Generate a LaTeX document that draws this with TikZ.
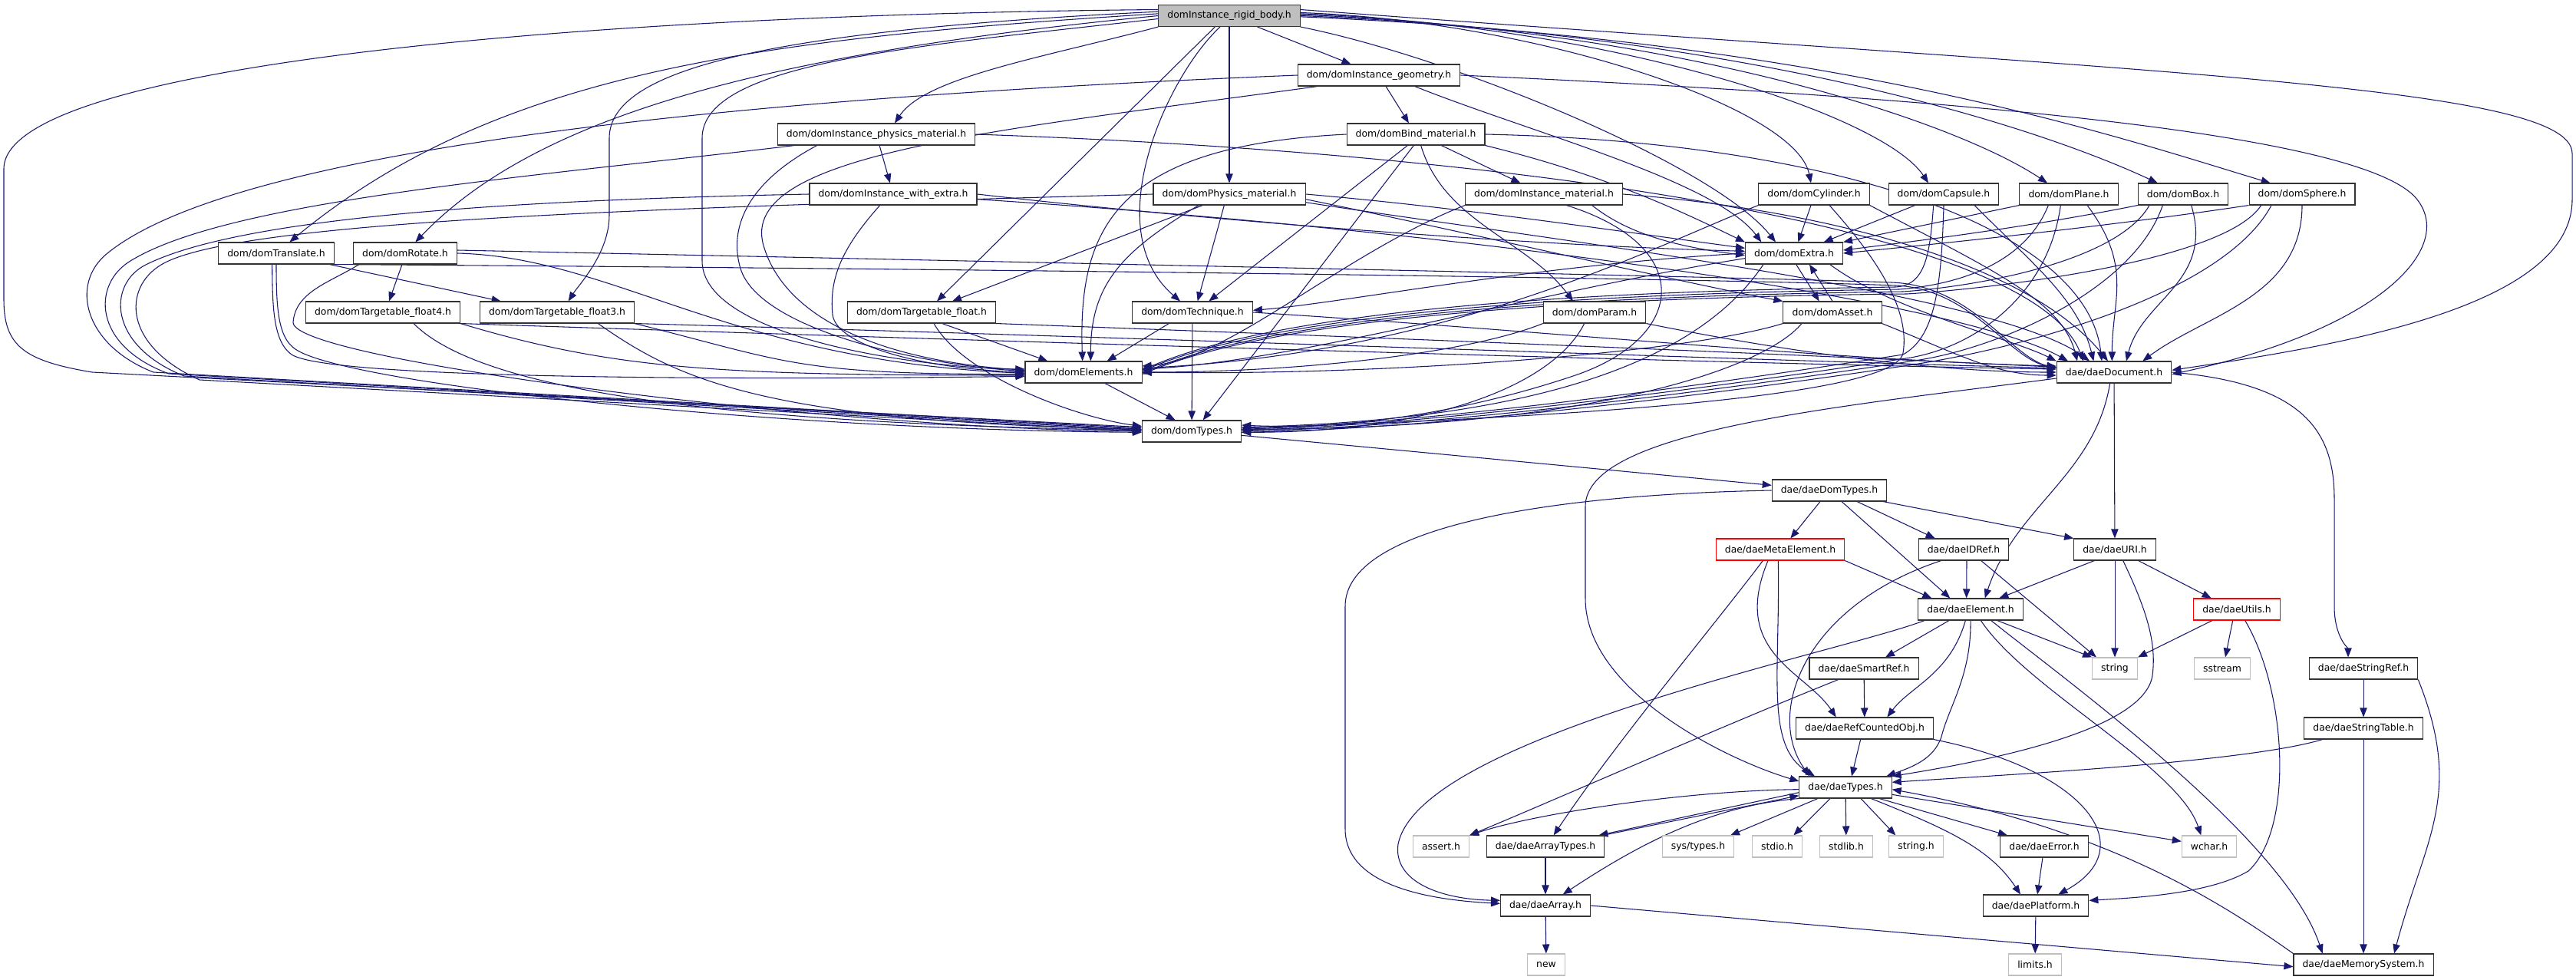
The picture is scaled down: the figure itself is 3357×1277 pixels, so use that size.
\documentclass[tikz,border=0pt]{standalone}
\usepackage{fontspec}
\setmainfont{DejaVu Sans}
\usetikzlibrary{arrows.meta}
\pgfdeclarelayer{bg}
\pgfsetlayers{bg,main}
\definecolor{edgec}{HTML}{191970}
\definecolor{boxc}{HTML}{333333}
\definecolor{sysc}{HTML}{BFBFBF}
\definecolor{rootc}{HTML}{BFBFBF}
\begin{document}
\begin{tikzpicture}[x=0.75pt,y=-0.75pt,
  nbox/.style={draw=boxc, line width=0.8pt, fill=white, minimum height=21pt, inner xsep=8.7pt, inner ysep=0pt, font=\fontsize{9.3pt}{11pt}\selectfont},
  sysb/.style={nbox, draw=sysc},
  redb/.style={nbox, draw=red},
  rootb/.style={nbox, fill=rootc},
  edg/.style={draw=edgec, line width=0.8pt, -{Triangle[length=9pt,width=7pt]}}]
\useasboundingbox (0,0) rectangle (3357,1277);
% ---------------- nodes
\node[rootb] (root) at (1602,20.5) {domInstance\_rigid\_body.h};
\node[nbox] (geom) at (1797,98) {dom/domInstance\_geometry.h};
\node[nbox] (ipm) at (1142,175) {dom/domInstance\_physics\_material.h};
\node[nbox] (bind) at (1845,175) {dom/domBind\_material.h};
\node[nbox] (iwe) at (1164,253) {dom/domInstance\_with\_extra.h};
\node[nbox] (pm) at (1602,253) {dom/domPhysics\_material.h};
\node[nbox] (imat) at (2012,253) {dom/domInstance\_material.h};
\node[nbox] (cyl) at (2364,253) {dom/domCylinder.h};
\node[nbox] (cap) at (2533,253) {dom/domCapsule.h};
\node[nbox] (plane) at (2696,253) {dom/domPlane.h};
\node[nbox] (box) at (2845,253) {dom/domBox.h};
\node[nbox] (sphere) at (3000,253) {dom/domSphere.h};
\node[nbox] (trans) at (360,330) {dom/domTranslate.h};
\node[nbox] (rot) at (528,330) {dom/domRotate.h};
\node[nbox] (extra) at (2338,330) {dom/domExtra.h};
\node[nbox] (tf4) at (499,407) {dom/domTargetable\_float4.h};
\node[nbox] (tf3) at (726,407) {dom/domTargetable\_float3.h};
\node[nbox] (tf) at (1201,407) {dom/domTargetable\_float.h};
\node[nbox] (tech) at (1554,407) {dom/domTechnique.h};
\node[nbox] (param) at (2078,407) {dom/domParam.h};
\node[nbox] (asset) at (2388,407) {dom/domAsset.h};
\node[nbox] (elem) at (1412,485) {dom/domElements.h};
\node[nbox] (doc) at (2755,485) {dae/daeDocument.h};
\node[nbox] (dtypes) at (1553,562) {dom/domTypes.h};
\node[nbox] (ddt) at (2384,639) {dae/daeDomTypes.h};
\node[redb] (meta) at (2320,716) {dae/daeMetaElement.h};
\node[nbox] (idref) at (2559,716) {dae/daeIDRef.h};
\node[nbox] (uri) at (2756,716) {dae/daeURI.h};
\node[nbox] (elt) at (2568,794) {dae/daeElement.h};
\node[redb] (utils) at (2915,794) {dae/daeUtils.h};
\node[nbox] (smart) at (2429,871) {dae/daeSmartRef.h};
\node[sysb] (string) at (2756,871) {string};
\node[sysb] (sstream) at (2896,871) {sstream};
\node[nbox] (sref) at (3080,871) {dae/daeStringRef.h};
\node[nbox] (rco) at (2430,949) {dae/daeRefCountedObj.h};
\node[nbox] (stable) at (3080,949) {dae/daeStringTable.h};
\node[nbox] (types) at (2405,1026) {dae/daeTypes.h};
\node[sysb] (assert) at (1878,1103) {assert.h};
\node[nbox] (atypes) at (2014,1103) {dae/daeArrayTypes.h};
\node[sysb] (systypes) at (2213,1103) {sys/types.h};
\node[sysb] (stdio) at (2316,1103) {stdio.h};
\node[sysb] (stdlib) at (2406,1103) {stdlib.h};
\node[sysb] (stringh) at (2497,1103) {string.h};
\node[nbox] (err) at (2664,1103) {dae/daeError.h};
\node[sysb] (wchar) at (2879,1103) {wchar.h};
\node[nbox] (array) at (2014,1180) {dae/daeArray.h};
\node[nbox] (platform) at (2653,1180) {dae/daePlatform.h};
\node[sysb] (new) at (2015,1257) {new};
\node[sysb] (limits) at (2652,1257) {limits.h};
\node[nbox] (mem) at (3080,1257) {dae/daeMemorySystem.h};
% ---------------- edges
\begin{pgfonlayer}{bg}
\fill[white] (0,0) rectangle (3357,1277);
% root
\draw[edg] (root) -- (geom);
\draw[edg] (root.south west) .. controls +(-150,40) and +(40,-60) .. ([xshift=18pt]ipm.north);
\draw[edg] (root) -- (pm);
\draw[edg] ([xshift=-9pt]root.south) .. controls (1520,100) and (1430,300) .. ([xshift=-12pt]tech.north);
\draw[edg] ([xshift=-14pt]root.south) -- ([xshift=15pt]tf.north);
\draw[edg] ([yshift=4pt]root.west) .. controls (1000,40) and (794,90) .. (794,180) -- (794,280) .. controls (794,330) and (755,370) .. ([xshift=11pt]tf3.north);
\draw[edg] ([yshift=2pt]root.west) .. controls (1000,50) and (650,90) .. ([xshift=13pt]trans.north);
\draw[edg] (root.west) .. controls (1000,70) and (700,150) .. ([xshift=10pt]rot.north);
\draw[edg] ([yshift=-3pt]root.west) .. controls (1200,60) and (915,80) .. (915,180) -- (915,340) .. controls (915,440) and (1200,480) .. ([yshift=3pt]elem.west);
\draw[edg] ([yshift=6pt]root.west) .. controls (700,20) and (5,90) .. (5,220) -- (5,390) .. controls (5,450) and (30,470) .. (120,485) -- ([yshift=4pt]dtypes.west);
\draw[edg] ([yshift=6pt]root.east) .. controls (2800,95) and (3352,110) .. (3352,200) -- (3352,260) .. controls (3352,400) and (3050,450) .. ([yshift=2pt]doc.east);
\draw[edg] ([yshift=3pt]root.east) .. controls +(300,10) and +(-20,-100) .. ([xshift=-3pt]cyl.north);
\draw[edg] ([yshift=2pt]root.east) .. controls +(400,15) and +(-60,-90) .. ([xshift=-15pt]cap.north);
\draw[edg] ([yshift=1pt]root.east) .. controls +(500,20) and +(-120,-80) .. ([xshift=-21pt]plane.north);
\draw[edg] (root.east) .. controls +(600,25) and +(-150,-70) .. ([xshift=-25pt]box.north);
\draw[edg] ([yshift=-1pt]root.east) .. controls +(700,30) and +(-200,-60) .. ([xshift=-31pt]sphere.north);
\draw[edg] (root.south east) .. controls +(200,40) and +(-80,-100) .. ([xshift=-18pt]extra.north);
% geom
\draw[edg] (geom) -- (bind);
\draw[edg] ([xshift=35pt]geom.south) .. controls +(150,60) and +(-60,-80) .. ([xshift=-32pt]extra.north);
\draw[edg] (geom.east) .. controls (2500,125) and (3080,170) .. (3150,260) .. controls (3200,324) and (3100,430) .. ([yshift=-2pt]doc.east);
\draw[edg] ([xshift=-60pt]geom.south) .. controls (1300,170) and (960,200) .. (995,320) .. controls (1023,416) and (1150,470) .. ([yshift=2pt]elem.west);
\draw[edg] (geom.west) .. controls (900,130) and (300,200) .. (140,330) .. controls (90,370) and (110,450) .. (200,485) -- ([yshift=3pt]dtypes.west);
% ipm
\draw[edg] (ipm) -- (iwe);
\draw[edg] ([xshift=-80pt]ipm.south) .. controls (700,230) and (300,260) .. (170,340) .. controls (120,370) and (120,450) .. (220,487) -- ([yshift=2pt]dtypes.west);
\draw[edg] ([xshift=-58pt]ipm.south) .. controls (970,240) and (950,300) .. (965,350) .. controls (990,430) and (1200,475) .. ([yshift=1pt]elem.west);
\draw[edg] (ipm.east) .. controls (2000,200) and (2650,300) .. ([xshift=-30pt]doc.north);
% iwe
\draw[edg] (iwe.east) .. controls (1600,290) and (2000,320) .. ([yshift=2pt]extra.west);
\draw[edg] ([yshift=-5pt]iwe.east) .. controls (1900,300) and (2550,390) .. ([xshift=-45pt]doc.north);
\draw[edg] ([xshift=-13pt]iwe.south) .. controls (1100,320) and (1080,360) .. (1085,410) .. controls (1090,450) and (1200,480) .. (elem.west);
\draw[edg] (iwe.west) .. controls (700,260) and (320,280) .. (190,345) .. controls (140,370) and (140,450) .. (240,490) -- ([yshift=1pt]dtypes.west);
% pm
\draw[edg] ([xshift=-26pt]pm.south) -- ([xshift=30pt]tf.north);
\draw[edg] ([xshift=-5pt]pm.south) -- ([xshift=5pt]tech.north);
\draw[edg] ([xshift=-30pt]pm.south) .. controls +(-100,60) and +(0,-100) .. ([xshift=7pt]elem.north);
\draw[edg] (pm.east) .. controls (1900,270) and (2100,300) .. ([yshift=5pt]extra.west);
\draw[edg] ([yshift=-5pt]pm.east) .. controls (1900,300) and (2200,370) .. (asset.north west);
\draw[edg] (pm.west) .. controls (900,270) and (310,285) .. (210,345) .. controls (160,375) and (160,450) .. (260,495) -- (dtypes.west);
\draw[edg] ([yshift=-8pt]pm.east) .. controls (2000,310) and (2600,380) .. ([xshift=-24pt]doc.north);
% bind
\draw[edg] ([xshift=25pt]bind.south) -- ([xshift=-23pt]imat.north);
\draw[edg] ([xshift=5pt]bind.south) .. controls +(30,100) and +(-60,-80) .. ([xshift=-21pt]param.north);
\draw[edg] ([xshift=-8pt]bind.south) -- ([xshift=16pt]tech.north);
\draw[edg] ([xshift=-2pt]bind.south) -- ([xshift=11pt]dtypes.north);
\draw[edg] (bind.west) .. controls (1450,190) and (1405,300) .. ([xshift=-1pt]elem.north);
\draw[edg] (bind.south east) .. controls (2100,230) and (2200,280) .. (extra.north west);
\draw[edg] (bind.east) .. controls (2400,185) and (2720,300) .. ([xshift=-12pt]doc.north);
% imat
\draw[edg] ([xshift=47pt]imat.south) .. controls +(50,40) and +(-80,-10) .. ([yshift=-2pt]extra.west);
\draw[edg] (imat.east) .. controls (2400,275) and (2650,350) .. ([xshift=-6pt]doc.north);
\draw[edg] (imat.south west) .. controls (1750,330) and (1600,470) .. ([yshift=6pt]elem.east);
\draw[edg] ([xshift=22pt]imat.south) .. controls (2210,320) and (2200,440) .. (2050,490) .. controls (1900,540) and (1750,560) .. ([yshift=6pt]dtypes.east);
% cyl
\draw[edg] ([xshift=-3pt]cyl.south) -- ([xshift=4pt]extra.north);
\draw[edg] (cyl.south west) .. controls +(-150,60) and +(400,-20) .. ([yshift=4pt]elem.east);
\draw[edg] ([xshift=15pt]cyl.south) .. controls (2440,330) and (2490,400) .. (2480,460) .. controls (2470,520) and (2000,545) .. ([yshift=3pt]dtypes.east);
\draw[edg] (cyl.south east) .. controls +(150,80) and +(-20,-80) .. ([xshift=-36pt]doc.north);
% cap
\draw[edg] ([xshift=-28pt]cap.south) -- ([xshift=29pt]extra.north);
\draw[edg] ([xshift=-10pt]cap.south) .. controls (2515,330) and (2510,372) .. (2470,374) .. controls (2200,378) and (1700,390) .. ([yshift=2pt]elem.east);
\draw[edg] (cap.south) .. controls (2530,380) and (2520,440) .. (2480,462) .. controls (2300,490) and (1900,550) .. ([yshift=2pt]dtypes.east);
\draw[edg] ([xshift=30pt]cap.south) .. controls +(80,80) and +(-20,-80) .. ([xshift=-20pt]doc.north);
% plane
\draw[edg] (plane.south west) -- (extra.north east);
\draw[edg] ([xshift=-20pt]plane.south) .. controls (2640,340) and (2560,370) .. (2475,377) .. controls (2200,381) and (1700,394) .. ([yshift=1pt]elem.east);
\draw[edg] ([xshift=-8pt]plane.south) .. controls (2670,380) and (2580,450) .. (2490,466) .. controls (2300,495) and (1900,552) .. ([yshift=1pt]dtypes.east);
\draw[edg] ([xshift=18pt]plane.south) .. controls +(60,80) and +(0,-80) .. ([xshift=-2pt]doc.north);
% box
\draw[edg] (box.south west) .. controls +(-150,30) and +(80,-10) .. ([yshift=3pt]extra.east);
\draw[edg] ([xshift=-33pt]box.south) .. controls (2760,340) and (2580,373) .. (2480,380) .. controls (2200,384) and (1700,397) .. ([yshift=-1pt]elem.east);
\draw[edg] ([xshift=-20pt]box.south) .. controls (2780,380) and (2600,455) .. (2495,470) .. controls (2300,500) and (1900,555) .. (dtypes.east);
\draw[edg] ([xshift=8pt]box.south) .. controls +(30,100) and +(20,-80) .. ([xshift=12pt]doc.north);
% sphere
\draw[edg] (sphere.south west) .. controls +(-200,30) and +(100,-10) .. (extra.east);
\draw[edg] ([xshift=-40pt]sphere.south) .. controls (2900,340) and (2600,376) .. (2485,383) .. controls (2200,386) and (1700,400) .. ([yshift=-2pt]elem.east);
\draw[edg] ([xshift=-30pt]sphere.south) .. controls (2900,380) and (2650,450) .. (2500,474) .. controls (2300,505) and (1900,558) .. ([yshift=-1pt]dtypes.east);
\draw[edg] (sphere.south) .. controls +(0,120) and +(80,-60) .. ([xshift=28pt]doc.north);
% trans
\draw[edg] ([xshift=52pt]trans.south) -- ([xshift=-55pt]tf3.north);
\draw[edg] (trans.south) .. controls (360,400) and (362,440) .. (385,455) .. controls (450,500) and (1000,560) .. ([yshift=-1pt]dtypes.west);
\draw[edg] ([xshift=-4pt]trans.south) .. controls (355,400) and (356,445) .. (380,462) .. controls (430,495) and (1000,495) .. ([yshift=-4pt]elem.west);
\draw[edg] (trans.south east) .. controls (1500,352) and (2300,365) .. (2470,372) .. controls (2570,376) and (2620,470) .. ([yshift=5pt]doc.west);
% rot
\draw[edg] ([xshift=-3pt]rot.south) -- ([xshift=6pt]tf4.north);
\draw[edg] ([xshift=-45pt]rot.south) .. controls (430,368) and (385,380) .. (382,420) .. controls (380,470) and (1100,560) .. (dtypes.west);
\draw[edg] (rot.east) .. controls (800,335) and (950,470) .. ([yshift=-1pt]elem.west);
\draw[edg] ([yshift=3pt]rot.east) .. controls (1500,345) and (2300,362) .. (2465,368) .. controls (2570,372) and (2620,465) .. ([yshift=4pt]doc.west);
% extra
\draw[edg] ([xshift=2pt]extra.south) -- ([xshift=-13pt]asset.north);
\draw[edg] (asset.north) -- ([xshift=15pt]extra.south);
\draw[edg] (extra.west) .. controls (2000,345) and (1750,395) .. ([yshift=2pt]tech.east);
\draw[edg] ([yshift=-5pt]extra.west) .. controls (2000,380) and (1700,470) .. ([yshift=3pt]elem.east);
\draw[edg] ([xshift=-30pt]extra.south) .. controls +(-80,120) and +(400,-10) .. ([yshift=4pt]dtypes.east);
\draw[edg] ([xshift=35pt]extra.south) .. controls +(80,60) and +(-60,-30) .. (doc.north west);
% asset
\draw[edg] (asset.south west) .. controls (2200,460) and (1800,490) .. (elem.east);
\draw[edg] ([xshift=-30pt]asset.south) .. controls +(-50,60) and +(450,0) .. ([yshift=2pt]dtypes.east);
\draw[edg] (asset.south east) .. controls +(100,40) and +(-80,0) .. ([yshift=-3pt]doc.west);
% param
\draw[edg] (param.south west) .. controls +(-100,40) and +(200,0) .. (elem.east);
\draw[edg] ([xshift=-10pt]param.south) .. controls +(-40,80) and +(250,0) .. ([yshift=-1pt]dtypes.east);
\draw[edg] (param.south east) .. controls +(200,40) and +(-150,0) .. (doc.west);
% tech
\draw[edg] ([xshift=-23pt]tech.south) -- ([xshift=23pt]elem.north);
\draw[edg] (tech) -- (dtypes);
\draw[edg] (tech.east) .. controls (2000,430) and (2400,470) .. ([yshift=6pt]doc.west);
% tf
\draw[edg] ([xshift=20pt]tf.south) -- ([xshift=-35pt]elem.north);
\draw[edg] ([xshift=12pt]tf.south) .. controls +(40,70) and +(-80,-10) .. ([yshift=5pt]dtypes.west);
\draw[edg] (tf.south east) .. controls (1800,440) and (2300,460) .. ([yshift=5pt]doc.west);
% tf3
\draw[edg] (tf3.south east) .. controls +(200,50) and +(-300,0) .. ([yshift=-2pt]elem.west);
\draw[edg] ([xshift=40pt]tf3.south) .. controls +(100,70) and +(-500,-10) .. ([yshift=2pt]dtypes.west);
\draw[edg] (tf3.south east) .. controls (1500,440) and (2300,470) .. ([yshift=4pt]doc.west);
% tf4
\draw[edg] (tf4.south east) .. controls +(200,60) and +(-400,0) .. ([yshift=-3pt]elem.west);
\draw[edg] ([xshift=30pt]tf4.south) .. controls +(80,80) and +(-600,-10) .. ([yshift=1pt]dtypes.west);
\draw[edg] (tf4.south east) .. controls (1300,445) and (2300,475) .. ([yshift=3pt]doc.west);
% elem, dtypes
\draw[edg] ([xshift=21pt]elem.south) -- ([xshift=-16pt]dtypes.north);
\draw[edg] ([yshift=-4pt]dtypes.east) -- ([yshift=5pt]ddt.west);
% doc
\draw[edg] (doc) -- (uri);
\draw[edg] ([xshift=-4pt]doc.south) .. controls +(-20,120) and +(40,-120) .. ([xshift=14pt]elt.north);
\draw[edg] ([yshift=-6pt]doc.west) .. controls (2400,530) and (2066,560) .. (2066,660) -- (2066,780) .. controls (2066,900) and (2250,990) .. ([yshift=6pt]types.west);
\draw[edg] (doc.east) .. controls (3000,500) and (3042,560) .. (3042,650) -- (3042,790) .. controls (3042,830) and (3060,845) .. ([xshift=-15pt]sref.north);
% ddt
\draw[edg] ([xshift=-9pt]ddt.south) -- ([xshift=10pt]meta.north);
\draw[edg] ([xshift=27pt]ddt.south) -- ([xshift=-28pt]idref.north);
\draw[edg] ([xshift=-4pt]ddt.south east) -- (uri.north west);
\draw[edg] ([xshift=12pt]ddt.south) -- ([xshift=-20pt]elt.north);
\draw[edg] (ddt.west) .. controls (2000,645) and (1753,690) .. (1753,790) -- (1753,1080) .. controls (1753,1150) and (1850,1172) .. ([yshift=2pt]array.west);
% meta
\draw[edg] (meta.south east) -- ([xshift=-38pt]elt.north);
\draw[edg] ([xshift=-17pt]meta.south) .. controls +(-60,80) and +(80,-120) .. ([xshift=8pt]atypes.north);
\draw[edg] ([xshift=-12pt]meta.south) .. controls +(-50,120) and +(-40,-60) .. ([xshift=-28pt]rco.north);
\draw[edg] ([xshift=-2pt]meta.south) .. controls (2320,880) and (2300,972) .. ([xshift=-30pt]types.north);
% idref
\draw[edg] ([xshift=3pt]idref.south) -- ([xshift=-4pt]elt.north);
\draw[edg] ([xshift=17pt]idref.south) -- ([xshift=-18pt]string.north);
\draw[edg] ([xshift=-22pt]idref.south) .. controls (2350,790) and (2300,930) .. ([xshift=-35pt]types.north);
% uri
\draw[edg] ([xshift=-20pt]uri.south) -- ([xshift=28pt]elt.north);
\draw[edg] (uri) -- (string);
\draw[edg] ([xshift=23pt]uri.south) -- ([xshift=-25pt]utils.north);
\draw[edg] ([xshift=8pt]uri.south) .. controls (2800,800) and (2810,840) .. (2805,880) .. controls (2795,950) and (2600,990) .. (types.north east);
% elt
\draw[edg] ([xshift=-45pt]elt.south) .. controls (2400,850) and (1850,960) .. (1822,1100) .. controls (1815,1150) and (1880,1172) .. ([yshift=5pt]array.west);
\draw[edg] ([xshift=-21pt]elt.south) -- ([xshift=21pt]smart.north);
\draw[edg] ([xshift=-5pt]elt.south) .. controls +(-20,70) and +(30,-40) .. ([xshift=22pt]rco.north);
\draw[edg] (elt.south) .. controls (2569,880) and (2540,920) .. (2530,960) .. controls (2520,990) and (2490,1000) .. ([xshift=40pt]types.north);
\draw[edg] ([xshift=10pt]elt.south) .. controls +(60,90) and +(-30,-90) .. ([xshift=-8pt]wchar.north);
\draw[edg] ([xshift=20pt]elt.south) .. controls +(100,80) and +(-50,-150) .. ([xshift=-40pt]mem.north);
\draw[edg] ([xshift=26pt]elt.south) -- (string.north west);
% utils
\draw[edg] ([xshift=-24pt]utils.south) -- (string.north east);
\draw[edg] ([xshift=-4pt]utils.south) -- ([xshift=3pt]sstream.north);
\draw[edg] ([xshift=8pt]utils.south) .. controls (2980,900) and (2990,1080) .. (2930,1135) .. controls (2880,1165) and (2780,1170) .. ([yshift=5pt]platform.east);
% smart, rco
\draw[edg] (smart) -- (rco);
\draw[edg] ([xshift=-25pt]smart.south) .. controls +(-150,60) and +(120,-50) .. (assert.north east);
\draw[edg] ([xshift=-4pt]rco.south) -- ([xshift=6pt]types.north);
\draw[edg] (rco.south east) .. controls +(200,40) and +(110,-60) .. ([xshift=22pt]platform.north);
% sref, stable
\draw[edg] (sref) -- (stable);
\draw[edg] (sref.south east) .. controls +(60,150) and +(40,-150) .. ([xshift=30pt]mem.north);
\draw[edg] (stable) -- (mem);
\draw[edg] ([xshift=-40pt]stable.south) .. controls +(-100,30) and +(150,-10) .. ([yshift=5pt]types.east);
% types
\draw[edg] ([yshift=-2pt]types.west) .. controls (2200,1030) and (2000,1060) .. (assert.north east);
\draw[edg] ([yshift=-5pt]types.west) -- ([xshift=-6pt]atypes.north east);
\draw[edg] ([xshift=-2pt]atypes.north east) -- ([yshift=-8pt]types.west);
\draw[edg] (types.south west) .. controls (2225,1050) and (2127,1106) .. ([xshift=17pt]array.north);
\draw[edg] ([xshift=-27pt]types.south) -- ([xshift=-4pt]systypes.north east);
\draw[edg] ([xshift=-15pt]types.south) -- ([xshift=16pt]stdio.north);
\draw[edg] (types) -- (stdlib);
\draw[edg] ([xshift=15pt]types.south) -- ([xshift=-20pt]stringh.north);
\draw[edg] ([xshift=33pt]types.south) -- ([xshift=-36pt]err.north);
\draw[edg] ([xshift=25pt]types.south) .. controls +(100,40) and +(-40,-60) .. ([xshift=-15pt]platform.north);
\draw[edg] ([yshift=-7pt]types.east) -- ([yshift=5pt]wchar.west);
\draw[edg] (mem.north west) .. controls (2900,1180) and (2750,1080) .. ([yshift=-2pt]types.east);
% lower
\draw[edg] (atypes) -- (array);
\draw[edg] (array) -- (new);
\draw[edg] (array.east) -- ([yshift=-2pt]mem.west);
\draw[edg] (err) -- (platform);
\draw[edg] (platform) -- (limits);
\end{pgfonlayer}
\end{tikzpicture}
\end{document}
